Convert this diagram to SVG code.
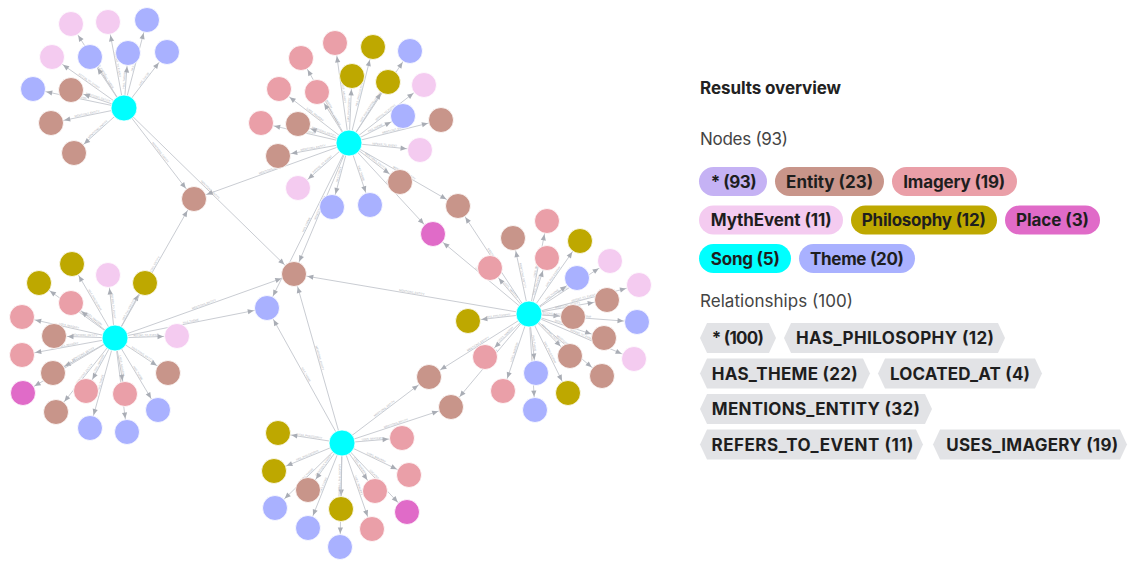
<svg xmlns="http://www.w3.org/2000/svg" width="1130" height="561" viewBox="0 0 1130 561">
<style>
.edges path{fill:none;stroke:#c3c6cd;stroke-width:0.9}
.e{marker-end:url(#a)}
.r{marker-start:url(#a)}
.lbl{font-family:Inter,"Liberation Sans",sans-serif;font-size:2.7px;fill:#aeb1b8;text-anchor:middle}
.nodes circle{stroke:#ffffff;stroke-width:0.8}
.ent{fill:#C8958A}.img{fill:#EA9FA8}.myth{fill:#F4CBF0}.phil{fill:#BEA800}.place{fill:#E06BC8}.song{fill:#00FFFF}.theme{fill:#A9B1FF}.star{fill:#C5B2F4}
.h{font-family:Inter,"Liberation Sans",sans-serif;font-size:17px;font-weight:700;fill:#222}
.sub{font-family:Inter,"Liberation Sans",sans-serif;font-size:17px;fill:#444}
.pt{font-family:Inter,"Liberation Sans",sans-serif;font-size:17px;font-weight:700;fill:#1e1e1e;text-anchor:middle}
.rel{fill:#E2E3E6}
</style>
<defs>
<marker id="a" markerUnits="userSpaceOnUse" markerWidth="10" markerHeight="10" refX="13.5" refY="0" orient="auto-start-reverse" overflow="visible"><path d="M0,0 L-6,-2.6 L-6,2.6 Z" fill="#a9adb5"/></marker>
</defs>
<g id="connectors" class="edges">
<path id="e1" class="r" d="M71,24 L124,108"/>
<path id="e2" class="r" d="M108,22 L124,108"/>
<path id="e3" class="e" d="M124,108 L147,20"/>
<path id="e4" class="r" d="M52,57 L124,108"/>
<path id="e5" class="r" d="M90,57 L124,108"/>
<path id="e6" class="e" d="M124,108 L128,53"/>
<path id="e7" class="e" d="M124,108 L167,52"/>
<path id="e8" class="r" d="M33,89 L124,108"/>
<path id="e9" class="r" d="M71,90 L124,108"/>
<path id="e10" class="r" d="M51,123 L124,108"/>
<path id="e11" class="r" d="M74,153 L124,108"/>
<path id="e12" class="e" d="M124,108 L194,199"/>
<path id="e13" class="e" d="M124,108 L294,274"/>
<path id="e14" class="r" d="M335,43 L349,143"/>
<path id="e15" class="e" d="M349,143 L373,47"/>
<path id="e16" class="e" d="M349,143 L410,51"/>
<path id="e17" class="r" d="M301,58 L349,143"/>
<path id="e18" class="e" d="M349,143 L352,76"/>
<path id="e19" class="e" d="M349,143 L388,82"/>
<path id="e20" class="e" d="M349,143 L424,85"/>
<path id="e21" class="r" d="M279,89 L349,143"/>
<path id="e22" class="r" d="M317,92 L349,143"/>
<path id="e23" class="e" d="M349,143 L403,116"/>
<path id="e24" class="e" d="M349,143 L441,120"/>
<path id="e25" class="r" d="M261,123 L349,143"/>
<path id="e26" class="r" d="M298,124 L349,143"/>
<path id="e27" class="e" d="M349,143 L420,150"/>
<path id="e28" class="r" d="M278,156 L349,143"/>
<path id="e29" class="e" d="M349,143 L400,182"/>
<path id="e30" class="r" d="M298,188 L349,143"/>
<path id="e31" class="r" d="M332,207 L349,143"/>
<path id="e32" class="e" d="M349,143 L370,205"/>
<path id="e33" class="e" d="M349,143 L458,206"/>
<path id="e34" class="r" d="M194,199 L349,143"/>
<path id="e35" class="r" d="M294,274 L349,143"/>
<path id="e36" class="r" d="M267,308 L349,143"/>
<path id="e37" class="e" d="M349,143 L433,234"/>
<path id="e38" class="r" d="M72,264 L115,338"/>
<path id="e39" class="r" d="M108,275 L115,338"/>
<path id="e40" class="r" d="M39,283 L115,338"/>
<path id="e41" class="e" d="M115,338 L145,283"/>
<path id="e42" class="r" d="M71,303 L115,338"/>
<path id="e43" class="r" d="M22,317 L115,338"/>
<path id="e44" class="r" d="M54,336 L115,338"/>
<path id="e45" class="e" d="M115,338 L177,336"/>
<path id="e46" class="r" d="M22,355 L115,338"/>
<path id="e47" class="r" d="M53,373 L115,338"/>
<path id="e48" class="e" d="M115,338 L168,373"/>
<path id="e49" class="r" d="M23,393 L115,338"/>
<path id="e50" class="r" d="M86,391 L115,338"/>
<path id="e51" class="e" d="M115,338 L125,394"/>
<path id="e52" class="r" d="M56,412 L115,338"/>
<path id="e53" class="e" d="M115,338 L158,410"/>
<path id="e54" class="r" d="M90,428 L115,338"/>
<path id="e55" class="e" d="M115,338 L127,432"/>
<path id="e56" class="e" d="M115,338 L194,199"/>
<path id="e57" class="e" d="M115,338 L294,274"/>
<path id="e58" class="e" d="M115,338 L267,308"/>
<path id="e59" class="r" d="M458,206 L529,314"/>
<path id="e60" class="r" d="M433,234 L529,314"/>
<path id="e61" class="e" d="M529,314 L547,221"/>
<path id="e62" class="r" d="M513,238 L529,314"/>
<path id="e63" class="e" d="M529,314 L580,241"/>
<path id="e64" class="e" d="M529,314 L547,258"/>
<path id="e65" class="e" d="M529,314 L610,261"/>
<path id="e66" class="r" d="M490,268 L529,314"/>
<path id="e67" class="e" d="M529,314 L577,278"/>
<path id="e68" class="e" d="M529,314 L639,285"/>
<path id="e69" class="e" d="M529,314 L607,300"/>
<path id="e70" class="r" d="M468,321 L529,314"/>
<path id="e71" class="e" d="M529,314 L573,317"/>
<path id="e72" class="e" d="M529,314 L637,322"/>
<path id="e73" class="e" d="M529,314 L604,338"/>
<path id="e74" class="r" d="M485,357 L529,314"/>
<path id="e75" class="e" d="M529,314 L570,356"/>
<path id="e76" class="e" d="M529,314 L634,359"/>
<path id="e77" class="e" d="M529,314 L536,373"/>
<path id="e78" class="r" d="M429,377 L529,314"/>
<path id="e79" class="e" d="M529,314 L602,376"/>
<path id="e80" class="r" d="M503,391 L529,314"/>
<path id="e81" class="e" d="M529,314 L568,393"/>
<path id="e82" class="r" d="M451,407 L529,314"/>
<path id="e83" class="e" d="M529,314 L535,410"/>
<path id="e84" class="r" d="M294,274 L529,314"/>
<path id="e85" class="r" d="M278,433 L342,443"/>
<path id="e86" class="e" d="M342,443 L402,438"/>
<path id="e87" class="r" d="M274,471 L342,443"/>
<path id="e88" class="e" d="M342,443 L409,475"/>
<path id="e89" class="r" d="M308,490 L342,443"/>
<path id="e90" class="e" d="M342,443 L375,491"/>
<path id="e91" class="r" d="M275,508 L342,443"/>
<path id="e92" class="r" d="M341,509 L342,443"/>
<path id="e93" class="e" d="M342,443 L407,512"/>
<path id="e94" class="r" d="M308,528 L342,443"/>
<path id="e95" class="e" d="M342,443 L372,529"/>
<path id="e96" class="r" d="M340,547 L342,443"/>
<path id="e97" class="e" d="M342,443 L429,377"/>
<path id="e98" class="e" d="M342,443 L451,407"/>
<path id="e99" class="r" d="M294,274 L342,443"/>
<path id="e100" class="r" d="M267,308 L342,443"/>
<g class="lbl">
<text dy="-0.8"><textPath href="#e1" startOffset="50%">REFERS_TO_EVENT</textPath></text>
<text dy="-0.8"><textPath href="#e2" startOffset="50%">REFERS_TO_EVENT</textPath></text>
<text dy="-0.8"><textPath href="#e3" startOffset="50%">HAS_THEME</textPath></text>
<text dy="-0.8"><textPath href="#e4" startOffset="50%">REFERS_TO_EVENT</textPath></text>
<text dy="-0.8"><textPath href="#e5" startOffset="50%">HAS_THEME</textPath></text>
<text dy="-0.8"><textPath href="#e6" startOffset="50%">HAS_THEME</textPath></text>
<text dy="-0.8"><textPath href="#e7" startOffset="50%">HAS_THEME</textPath></text>
<text dy="-0.8"><textPath href="#e8" startOffset="50%">HAS_THEME</textPath></text>
<text dy="-0.8"><textPath href="#e9" startOffset="50%">MENTIONS_ENTITY</textPath></text>
<text dy="-0.8"><textPath href="#e10" startOffset="50%">MENTIONS_ENTITY</textPath></text>
<text dy="-0.8"><textPath href="#e11" startOffset="50%">MENTIONS_ENTITY</textPath></text>
<text dy="-0.8"><textPath href="#e12" startOffset="50%">MENTIONS_ENTITY</textPath></text>
<text dy="-0.8"><textPath href="#e13" startOffset="50%">MENTIONS_ENTITY</textPath></text>
<text dy="-0.8"><textPath href="#e14" startOffset="50%">USES_IMAGERY</textPath></text>
<text dy="-0.8"><textPath href="#e15" startOffset="50%">HAS_PHILOSOPHY</textPath></text>
<text dy="-0.8"><textPath href="#e16" startOffset="50%">HAS_THEME</textPath></text>
<text dy="-0.8"><textPath href="#e17" startOffset="50%">USES_IMAGERY</textPath></text>
<text dy="-0.8"><textPath href="#e18" startOffset="50%">HAS_PHILOSOPHY</textPath></text>
<text dy="-0.8"><textPath href="#e19" startOffset="50%">HAS_PHILOSOPHY</textPath></text>
<text dy="-0.8"><textPath href="#e20" startOffset="50%">REFERS_TO_EVENT</textPath></text>
<text dy="-0.8"><textPath href="#e21" startOffset="50%">USES_IMAGERY</textPath></text>
<text dy="-0.8"><textPath href="#e22" startOffset="50%">USES_IMAGERY</textPath></text>
<text dy="-0.8"><textPath href="#e23" startOffset="50%">HAS_THEME</textPath></text>
<text dy="-0.8"><textPath href="#e24" startOffset="50%">MENTIONS_ENTITY</textPath></text>
<text dy="-0.8"><textPath href="#e25" startOffset="50%">USES_IMAGERY</textPath></text>
<text dy="-0.8"><textPath href="#e26" startOffset="50%">MENTIONS_ENTITY</textPath></text>
<text dy="-0.8"><textPath href="#e27" startOffset="50%">REFERS_TO_EVENT</textPath></text>
<text dy="-0.8"><textPath href="#e28" startOffset="50%">MENTIONS_ENTITY</textPath></text>
<text dy="-0.8"><textPath href="#e29" startOffset="50%">MENTIONS_ENTITY</textPath></text>
<text dy="-0.8"><textPath href="#e30" startOffset="50%">REFERS_TO_EVENT</textPath></text>
<text dy="-0.8"><textPath href="#e31" startOffset="50%">HAS_THEME</textPath></text>
<text dy="-0.8"><textPath href="#e32" startOffset="50%">HAS_THEME</textPath></text>
<text dy="-0.8"><textPath href="#e33" startOffset="50%">MENTIONS_ENTITY</textPath></text>
<text dy="-0.8"><textPath href="#e34" startOffset="50%">MENTIONS_ENTITY</textPath></text>
<text dy="-0.8"><textPath href="#e35" startOffset="50%">MENTIONS_ENTITY</textPath></text>
<text dy="-0.8"><textPath href="#e36" startOffset="50%">HAS_THEME</textPath></text>
<text dy="-0.8"><textPath href="#e37" startOffset="50%">LOCATED_AT</textPath></text>
<text dy="-0.8"><textPath href="#e38" startOffset="50%">HAS_PHILOSOPHY</textPath></text>
<text dy="-0.8"><textPath href="#e39" startOffset="50%">REFERS_TO_EVENT</textPath></text>
<text dy="-0.8"><textPath href="#e40" startOffset="50%">HAS_PHILOSOPHY</textPath></text>
<text dy="-0.8"><textPath href="#e41" startOffset="50%">HAS_PHILOSOPHY</textPath></text>
<text dy="-0.8"><textPath href="#e42" startOffset="50%">USES_IMAGERY</textPath></text>
<text dy="-0.8"><textPath href="#e43" startOffset="50%">USES_IMAGERY</textPath></text>
<text dy="-0.8"><textPath href="#e44" startOffset="50%">MENTIONS_ENTITY</textPath></text>
<text dy="-0.8"><textPath href="#e45" startOffset="50%">REFERS_TO_EVENT</textPath></text>
<text dy="-0.8"><textPath href="#e46" startOffset="50%">USES_IMAGERY</textPath></text>
<text dy="-0.8"><textPath href="#e47" startOffset="50%">MENTIONS_ENTITY</textPath></text>
<text dy="-0.8"><textPath href="#e48" startOffset="50%">MENTIONS_ENTITY</textPath></text>
<text dy="-0.8"><textPath href="#e49" startOffset="50%">LOCATED_AT</textPath></text>
<text dy="-0.8"><textPath href="#e50" startOffset="50%">USES_IMAGERY</textPath></text>
<text dy="-0.8"><textPath href="#e51" startOffset="50%">USES_IMAGERY</textPath></text>
<text dy="-0.8"><textPath href="#e52" startOffset="50%">MENTIONS_ENTITY</textPath></text>
<text dy="-0.8"><textPath href="#e53" startOffset="50%">HAS_THEME</textPath></text>
<text dy="-0.8"><textPath href="#e54" startOffset="50%">HAS_THEME</textPath></text>
<text dy="-0.8"><textPath href="#e55" startOffset="50%">HAS_THEME</textPath></text>
<text dy="-0.8"><textPath href="#e56" startOffset="50%">MENTIONS_ENTITY</textPath></text>
<text dy="-0.8"><textPath href="#e57" startOffset="50%">MENTIONS_ENTITY</textPath></text>
<text dy="-0.8"><textPath href="#e58" startOffset="50%">HAS_THEME</textPath></text>
<text dy="-0.8"><textPath href="#e59" startOffset="50%">MENTIONS_ENTITY</textPath></text>
<text dy="-0.8"><textPath href="#e60" startOffset="50%">LOCATED_AT</textPath></text>
<text dy="-0.8"><textPath href="#e61" startOffset="50%">USES_IMAGERY</textPath></text>
<text dy="-0.8"><textPath href="#e62" startOffset="50%">MENTIONS_ENTITY</textPath></text>
<text dy="-0.8"><textPath href="#e63" startOffset="50%">HAS_PHILOSOPHY</textPath></text>
<text dy="-0.8"><textPath href="#e64" startOffset="50%">USES_IMAGERY</textPath></text>
<text dy="-0.8"><textPath href="#e65" startOffset="50%">REFERS_TO_EVENT</textPath></text>
<text dy="-0.8"><textPath href="#e66" startOffset="50%">USES_IMAGERY</textPath></text>
<text dy="-0.8"><textPath href="#e67" startOffset="50%">HAS_THEME</textPath></text>
<text dy="-0.8"><textPath href="#e68" startOffset="50%">REFERS_TO_EVENT</textPath></text>
<text dy="-0.8"><textPath href="#e69" startOffset="50%">MENTIONS_ENTITY</textPath></text>
<text dy="-0.8"><textPath href="#e70" startOffset="50%">HAS_PHILOSOPHY</textPath></text>
<text dy="-0.8"><textPath href="#e71" startOffset="50%">MENTIONS_ENTITY</textPath></text>
<text dy="-0.8"><textPath href="#e72" startOffset="50%">HAS_THEME</textPath></text>
<text dy="-0.8"><textPath href="#e73" startOffset="50%">MENTIONS_ENTITY</textPath></text>
<text dy="-0.8"><textPath href="#e74" startOffset="50%">USES_IMAGERY</textPath></text>
<text dy="-0.8"><textPath href="#e75" startOffset="50%">MENTIONS_ENTITY</textPath></text>
<text dy="-0.8"><textPath href="#e76" startOffset="50%">REFERS_TO_EVENT</textPath></text>
<text dy="-0.8"><textPath href="#e77" startOffset="50%">HAS_THEME</textPath></text>
<text dy="-0.8"><textPath href="#e78" startOffset="50%">MENTIONS_ENTITY</textPath></text>
<text dy="-0.8"><textPath href="#e79" startOffset="50%">MENTIONS_ENTITY</textPath></text>
<text dy="-0.8"><textPath href="#e80" startOffset="50%">USES_IMAGERY</textPath></text>
<text dy="-0.8"><textPath href="#e81" startOffset="50%">HAS_PHILOSOPHY</textPath></text>
<text dy="-0.8"><textPath href="#e82" startOffset="50%">MENTIONS_ENTITY</textPath></text>
<text dy="-0.8"><textPath href="#e83" startOffset="50%">HAS_THEME</textPath></text>
<text dy="-0.8"><textPath href="#e84" startOffset="50%">MENTIONS_ENTITY</textPath></text>
<text dy="-0.8"><textPath href="#e85" startOffset="50%">HAS_PHILOSOPHY</textPath></text>
<text dy="-0.8"><textPath href="#e86" startOffset="50%">USES_IMAGERY</textPath></text>
<text dy="-0.8"><textPath href="#e87" startOffset="50%">HAS_PHILOSOPHY</textPath></text>
<text dy="-0.8"><textPath href="#e88" startOffset="50%">USES_IMAGERY</textPath></text>
<text dy="-0.8"><textPath href="#e89" startOffset="50%">MENTIONS_ENTITY</textPath></text>
<text dy="-0.8"><textPath href="#e90" startOffset="50%">USES_IMAGERY</textPath></text>
<text dy="-0.8"><textPath href="#e91" startOffset="50%">HAS_THEME</textPath></text>
<text dy="-0.8"><textPath href="#e92" startOffset="50%">HAS_PHILOSOPHY</textPath></text>
<text dy="-0.8"><textPath href="#e93" startOffset="50%">LOCATED_AT</textPath></text>
<text dy="-0.8"><textPath href="#e94" startOffset="50%">HAS_THEME</textPath></text>
<text dy="-0.8"><textPath href="#e95" startOffset="50%">USES_IMAGERY</textPath></text>
<text dy="-0.8"><textPath href="#e96" startOffset="50%">HAS_THEME</textPath></text>
<text dy="-0.8"><textPath href="#e97" startOffset="50%">MENTIONS_ENTITY</textPath></text>
<text dy="-0.8"><textPath href="#e98" startOffset="50%">MENTIONS_ENTITY</textPath></text>
<text dy="-0.8"><textPath href="#e99" startOffset="50%">MENTIONS_ENTITY</textPath></text>
<text dy="-0.8"><textPath href="#e100" startOffset="50%">HAS_THEME</textPath></text>
</g>
</g>
<g class="nodes">
<g id="song1"><circle class="song" cx="124" cy="108" r="13"/></g>
<g id="song2"><circle class="song" cx="349" cy="143" r="13"/></g>
<g id="song3"><circle class="song" cx="115" cy="338" r="13"/></g>
<g id="song4"><circle class="song" cx="529" cy="314" r="13"/></g>
<g id="song5"><circle class="song" cx="342" cy="443" r="13"/></g>
<g id="ent1"><circle class="ent" cx="71" cy="90" r="12.5"/></g>
<g id="ent2"><circle class="ent" cx="51" cy="123" r="12.5"/></g>
<g id="ent3"><circle class="ent" cx="74" cy="153" r="12.5"/></g>
<g id="ent4"><circle class="ent" cx="298" cy="124" r="12.5"/></g>
<g id="ent5"><circle class="ent" cx="441" cy="120" r="12.5"/></g>
<g id="ent6"><circle class="ent" cx="278" cy="156" r="12.5"/></g>
<g id="ent7"><circle class="ent" cx="400" cy="182" r="12.5"/></g>
<g id="ent8"><circle class="ent" cx="458" cy="206" r="12.5"/></g>
<g id="ent9"><circle class="ent" cx="194" cy="199" r="12.5"/></g>
<g id="ent10"><circle class="ent" cx="294" cy="274" r="12.5"/></g>
<g id="ent11"><circle class="ent" cx="54" cy="336" r="12.5"/></g>
<g id="ent12"><circle class="ent" cx="53" cy="373" r="12.5"/></g>
<g id="ent13"><circle class="ent" cx="168" cy="373" r="12.5"/></g>
<g id="ent14"><circle class="ent" cx="56" cy="412" r="12.5"/></g>
<g id="ent15"><circle class="ent" cx="513" cy="238" r="12.5"/></g>
<g id="ent16"><circle class="ent" cx="607" cy="300" r="12.5"/></g>
<g id="ent17"><circle class="ent" cx="573" cy="317" r="12.5"/></g>
<g id="ent18"><circle class="ent" cx="604" cy="338" r="12.5"/></g>
<g id="ent19"><circle class="ent" cx="570" cy="356" r="12.5"/></g>
<g id="ent20"><circle class="ent" cx="429" cy="377" r="12.5"/></g>
<g id="ent21"><circle class="ent" cx="602" cy="376" r="12.5"/></g>
<g id="ent22"><circle class="ent" cx="451" cy="407" r="12.5"/></g>
<g id="ent23"><circle class="ent" cx="308" cy="490" r="12.5"/></g>
<g id="img1"><circle class="img" cx="335" cy="43" r="12.5"/></g>
<g id="img2"><circle class="img" cx="301" cy="58" r="12.5"/></g>
<g id="img3"><circle class="img" cx="279" cy="89" r="12.5"/></g>
<g id="img4"><circle class="img" cx="317" cy="92" r="12.5"/></g>
<g id="img5"><circle class="img" cx="261" cy="123" r="12.5"/></g>
<g id="img6"><circle class="img" cx="71" cy="303" r="12.5"/></g>
<g id="img7"><circle class="img" cx="22" cy="317" r="12.5"/></g>
<g id="img8"><circle class="img" cx="22" cy="355" r="12.5"/></g>
<g id="img9"><circle class="img" cx="86" cy="391" r="12.5"/></g>
<g id="img10"><circle class="img" cx="125" cy="394" r="12.5"/></g>
<g id="img11"><circle class="img" cx="547" cy="221" r="12.5"/></g>
<g id="img12"><circle class="img" cx="547" cy="258" r="12.5"/></g>
<g id="img13"><circle class="img" cx="490" cy="268" r="12.5"/></g>
<g id="img14"><circle class="img" cx="485" cy="357" r="12.5"/></g>
<g id="img15"><circle class="img" cx="503" cy="391" r="12.5"/></g>
<g id="img16"><circle class="img" cx="402" cy="438" r="12.5"/></g>
<g id="img17"><circle class="img" cx="409" cy="475" r="12.5"/></g>
<g id="img18"><circle class="img" cx="375" cy="491" r="12.5"/></g>
<g id="img19"><circle class="img" cx="372" cy="529" r="12.5"/></g>
<g id="myth1"><circle class="myth" cx="71" cy="24" r="12.5"/></g>
<g id="myth2"><circle class="myth" cx="108" cy="22" r="12.5"/></g>
<g id="myth3"><circle class="myth" cx="52" cy="57" r="12.5"/></g>
<g id="myth4"><circle class="myth" cx="424" cy="85" r="12.5"/></g>
<g id="myth5"><circle class="myth" cx="420" cy="150" r="12.5"/></g>
<g id="myth6"><circle class="myth" cx="298" cy="188" r="12.5"/></g>
<g id="myth7"><circle class="myth" cx="108" cy="275" r="12.5"/></g>
<g id="myth8"><circle class="myth" cx="177" cy="336" r="12.5"/></g>
<g id="myth9"><circle class="myth" cx="610" cy="261" r="12.5"/></g>
<g id="myth10"><circle class="myth" cx="639" cy="285" r="12.5"/></g>
<g id="myth11"><circle class="myth" cx="634" cy="359" r="12.5"/></g>
<g id="phil1"><circle class="phil" cx="373" cy="47" r="12.5"/></g>
<g id="phil2"><circle class="phil" cx="352" cy="76" r="12.5"/></g>
<g id="phil3"><circle class="phil" cx="388" cy="82" r="12.5"/></g>
<g id="phil4"><circle class="phil" cx="72" cy="264" r="12.5"/></g>
<g id="phil5"><circle class="phil" cx="39" cy="283" r="12.5"/></g>
<g id="phil6"><circle class="phil" cx="145" cy="283" r="12.5"/></g>
<g id="phil7"><circle class="phil" cx="580" cy="241" r="12.5"/></g>
<g id="phil8"><circle class="phil" cx="468" cy="321" r="12.5"/></g>
<g id="phil9"><circle class="phil" cx="568" cy="393" r="12.5"/></g>
<g id="phil10"><circle class="phil" cx="278" cy="433" r="12.5"/></g>
<g id="phil11"><circle class="phil" cx="274" cy="471" r="12.5"/></g>
<g id="phil12"><circle class="phil" cx="341" cy="509" r="12.5"/></g>
<g id="place1"><circle class="place" cx="433" cy="234" r="12.5"/></g>
<g id="place2"><circle class="place" cx="23" cy="393" r="12.5"/></g>
<g id="place3"><circle class="place" cx="407" cy="512" r="12.5"/></g>
<g id="theme1"><circle class="theme" cx="147" cy="20" r="12.5"/></g>
<g id="theme2"><circle class="theme" cx="90" cy="57" r="12.5"/></g>
<g id="theme3"><circle class="theme" cx="128" cy="53" r="12.5"/></g>
<g id="theme4"><circle class="theme" cx="167" cy="52" r="12.5"/></g>
<g id="theme5"><circle class="theme" cx="33" cy="89" r="12.5"/></g>
<g id="theme6"><circle class="theme" cx="410" cy="51" r="12.5"/></g>
<g id="theme7"><circle class="theme" cx="403" cy="116" r="12.5"/></g>
<g id="theme8"><circle class="theme" cx="332" cy="207" r="12.5"/></g>
<g id="theme9"><circle class="theme" cx="370" cy="205" r="12.5"/></g>
<g id="theme10"><circle class="theme" cx="267" cy="308" r="12.5"/></g>
<g id="theme11"><circle class="theme" cx="158" cy="410" r="12.5"/></g>
<g id="theme12"><circle class="theme" cx="90" cy="428" r="12.5"/></g>
<g id="theme13"><circle class="theme" cx="127" cy="432" r="12.5"/></g>
<g id="theme14"><circle class="theme" cx="577" cy="278" r="12.5"/></g>
<g id="theme15"><circle class="theme" cx="637" cy="322" r="12.5"/></g>
<g id="theme16"><circle class="theme" cx="536" cy="373" r="12.5"/></g>
<g id="theme17"><circle class="theme" cx="535" cy="410" r="12.5"/></g>
<g id="theme18"><circle class="theme" cx="275" cy="508" r="12.5"/></g>
<g id="theme19"><circle class="theme" cx="308" cy="528" r="12.5"/></g>
<g id="theme20"><circle class="theme" cx="340" cy="547" r="12.5"/></g>
</g>
<g id="legend">
<text class="h" x="700" y="94" textLength="141">Results overview</text>
<text class="sub" x="700" y="145" textLength="88">Nodes (93)</text>
<g id="lg-all"><rect class="star" x="699" y="167" width="68" height="29" rx="14.5"/><text class="pt" x="733.7" y="187.5" textLength="46">* (93)</text></g>
<g id="lg-entity"><rect class="ent" x="775" y="167" width="109" height="29" rx="14.5"/><text class="pt" x="829.6" y="187.5" textLength="87">Entity (23)</text></g>
<g id="lg-imagery"><rect class="img" x="892" y="167" width="125" height="29" rx="14.5"/><text class="pt" x="954.2" y="187.5" textLength="102">Imagery (19)</text></g>
<g id="lg-myth"><rect class="myth" x="699" y="205.5" width="144" height="29" rx="14.5"/><text class="pt" x="771.2" y="226" textLength="121">MythEvent (11)</text></g>
<g id="lg-phil"><rect class="phil" x="851" y="205.5" width="146" height="29" rx="14.5"/><text class="pt" x="923.8" y="226" textLength="124">Philosophy (12)</text></g>
<g id="lg-place"><rect class="place" x="1005" y="205.5" width="95" height="29" rx="14.5"/><text class="pt" x="1052.5" y="226" textLength="73">Place (3)</text></g>
<g id="lg-song"><rect class="song" x="699" y="244" width="92" height="29" rx="14.5"/><text class="pt" x="745.3" y="264.5" textLength="69">Song (5)</text></g>
<g id="lg-theme"><rect class="theme" x="799" y="244" width="116" height="29" rx="14.5"/><text class="pt" x="857" y="264.5" textLength="94">Theme (20)</text></g>
<text class="sub" x="700" y="307" textLength="153">Relationships (100)</text>
<g id="rl-all"><path class="rel" d="M700,338 L707,323 L769,323 L776,338 L769,353 L707,353 Z"/><text class="pt" x="737.8" y="344" textLength="52">* (100)</text></g>
<g id="rl-phil"><path class="rel" d="M784,338 L791,323 L998,323 L1005,338 L998,353 L791,353 Z"/><text class="pt" x="895" y="344" textLength="198">HAS_PHILOSOPHY (12)</text></g>
<g id="rl-theme"><path class="rel" d="M700,373.5 L707,358.5 L863,358.5 L870,373.5 L863,388.5 L707,388.5 Z"/><text class="pt" x="784.7" y="379.5" textLength="146">HAS_THEME (22)</text></g>
<g id="rl-loc"><path class="rel" d="M878,373.5 L885,358.5 L1035,358.5 L1042,373.5 L1035,388.5 L885,388.5 Z"/><text class="pt" x="960" y="379.5" textLength="140">LOCATED_AT (4)</text></g>
<g id="rl-ent"><path class="rel" d="M700,409 L707,394 L925,394 L932,409 L925,424 L707,424 Z"/><text class="pt" x="815.8" y="415" textLength="208">MENTIONS_ENTITY (32)</text></g>
<g id="rl-evt"><path class="rel" d="M700,444.5 L707,429.5 L916,429.5 L923,444.5 L916,459.5 L707,459.5 Z"/><text class="pt" x="812.5" y="450.5" textLength="202">REFERS_TO_EVENT (11)</text></g>
<g id="rl-img"><path class="rel" d="M933,444.5 L940,429.5 L1120,429.5 L1127,444.5 L1120,459.5 L940,459.5 Z"/><text class="pt" x="1032.2" y="450.5" textLength="172">USES_IMAGERY (19)</text></g>
</g>
</svg>
